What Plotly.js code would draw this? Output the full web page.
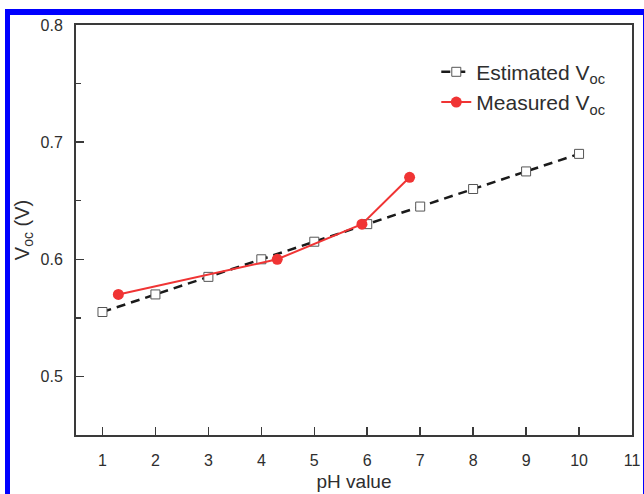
<!DOCTYPE html>
<html>
<head>
<meta charset="utf-8">
<script src="https://cdn.plot.ly/plotly-3.0.1.min.js"></script>
<style>
html,body{margin:0;padding:0;background:#fff;overflow:hidden;}
#wrap{position:relative;width:644px;height:494px;}
#chart{position:absolute;left:0;top:0;width:644px;height:494px;}
#frame{position:absolute;left:5px;top:9px;width:633px;height:500px;border-left:5px solid #0000ff;border-top:6px solid #0000ff;border-right:3px solid #0000ff;pointer-events:none;}
</style>
</head>
<body>
<div id="wrap"><div id="chart"></div><div id="frame"></div></div>
<script>
var estPH = [1, 2, 3, 4, 5, 6, 7, 8, 9, 10];
var estVoc = [0.555, 0.570, 0.585, 0.600, 0.615, 0.630, 0.645, 0.660, 0.675, 0.690];
var measPH = [1.3, 4.3, 5.9, 6.8];
var measVoc = [0.570, 0.600, 0.630, 0.670];
var xTicks = [1, 2, 3, 4, 5, 6, 7, 8, 9, 10, 11];
var yTicks = [0.5, 0.6, 0.7, 0.8];

var font = "Liberation Sans, Arial, sans-serif";
var traces = [
  {
    x: estPH, y: estVoc, type: 'scatter', mode: 'lines+markers',
    name: 'Estimated V<sub>oc</sub>',
    line: {color: '#1a1a1a', width: 2.5, dash: '9px,6px'},
    marker: {symbol: 'square', size: 9, color: '#ffffff', line: {color: '#555555', width: 1}}
  },
  {
    x: measPH, y: measVoc, type: 'scatter', mode: 'lines+markers',
    name: 'Measured V<sub>oc</sub>',
    line: {color: '#f03434', width: 2},
    marker: {symbol: 'circle', size: 11, color: '#f03434'}
  }
];
var axisCommon = {
  showgrid: false, zeroline: false, showline: true, mirror: true,
  linecolor: '#3a3a3a', linewidth: 2, ticks: 'inside', ticklen: 8, tickwidth: 1.5,
  tickcolor: '#3a3a3a', tickfont: {family: font, size: 16, color: '#2e2e2e'}
};
var layout = {
  width: 644, height: 494,
  margin: {l: 76, r: 12, t: 25, b: 59},
  paper_bgcolor: '#ffffff', plot_bgcolor: '#ffffff',
  showlegend: true,
  legend: {x: 0.648, y: 0.935, xanchor: 'left', yanchor: 'top', bgcolor: 'rgba(0,0,0,0)',
    font: {family: font, size: 21, color: '#2e2e2e'}, tracegroupgap: 2},
  xaxis: Object.assign({}, axisCommon, {
    range: [0.5, 11], tickvals: xTicks, ticktext: xTicks.map(String),
    ticklabelstandoff: 10,
    title: {text: 'pH value', font: {family: font, size: 19, color: '#2e2e2e'}, standoff: 6}
  }),
  yaxis: Object.assign({}, axisCommon, {
    range: [0.45, 0.8], tickvals: yTicks, ticktext: yTicks.map(function(v){return v.toFixed(1);}),
    ticklabelstandoff: 8,
    minor: {dtick: 0.05, tick0: 0.45, ticks: 'inside', ticklen: 5, tickwidth: 1.5, tickcolor: '#3a3a3a'},
    title: {text: 'V<sub>oc</sub> (V)', font: {family: font, size: 20, color: '#2e2e2e'}, standoff: 6}
  })
};
Plotly.newPlot('chart', traces, layout, {displayModeBar: false, staticPlot: true});
</script>
</body>
</html>
